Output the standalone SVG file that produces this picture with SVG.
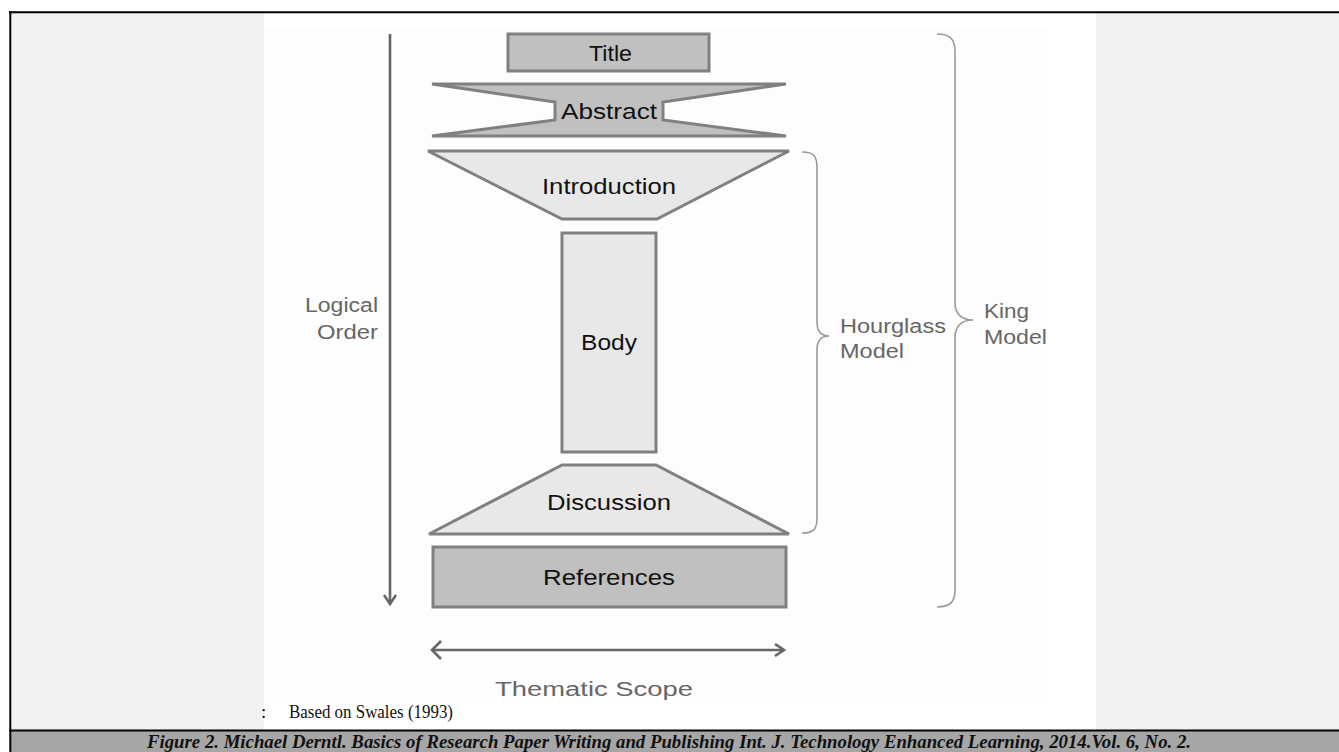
<svg xmlns="http://www.w3.org/2000/svg" width="1339" height="752" viewBox="0 0 1339 752">
<style>
.shape{stroke:#808080;stroke-width:3;stroke-linejoin:miter}
.dark{fill:#c0c0c0}
.light{fill:#e8e8e8}
.lbl{font-family:"Liberation Sans",Arial,sans-serif;font-size:22px;fill:#111}
.side{font-family:"Liberation Sans",Arial,sans-serif;font-size:19.5px;fill:#666}
.brace{fill:none;stroke:#9a9a9a;stroke-width:1.6}
.arrow{fill:none;stroke:#666;stroke-width:2.6}
</style>
<defs>
<marker id="head" markerWidth="12" markerHeight="14" refX="10" refY="7" orient="auto" markerUnits="userSpaceOnUse">
<path d="M1,1 L10,7 L1,13" fill="none" stroke="#666" stroke-width="2.6"/>
</marker>
</defs>
<rect x="0" y="0" width="1339" height="752" fill="#ffffff"/>
<rect x="10" y="12" width="254" height="718" fill="#f1f1f1"/>
<rect x="1096" y="12" width="243" height="718" fill="#f1f1f1"/>
<rect x="264" y="27" width="784" height="676" fill="#fdfdfd"/>
<rect x="10" y="731" width="1329" height="21" fill="#a6a6a6"/>
<line x1="9" y1="12.3" x2="1339" y2="12.3" stroke="#000" stroke-width="2"/>
<line x1="10.3" y1="11" x2="10.3" y2="752" stroke="#000" stroke-width="2"/>
<line x1="9" y1="730.5" x2="1339" y2="730.5" stroke="#000" stroke-width="2"/>

<g id="title">
<rect class="shape dark" x="508" y="34" width="201" height="37"/>
<text class="lbl" x="589" y="61" textLength="43" lengthAdjust="spacingAndGlyphs">Title</text>
</g>
<g id="abstract">
<polygon class="shape dark" points="432,84 786,84 663,102 663,120 786,136 432,136 555,120 555,102"/>
<text class="lbl" x="561" y="119" textLength="96" lengthAdjust="spacingAndGlyphs">Abstract</text>
</g>
<g id="introduction">
<polygon class="shape light" points="428,151 789,151 657,219 562,219"/>
<text class="lbl" x="542" y="194" textLength="134" lengthAdjust="spacingAndGlyphs">Introduction</text>
</g>
<g id="body">
<rect class="shape light" x="562" y="233" width="94" height="219"/>
<text class="lbl" x="581" y="350" textLength="56" lengthAdjust="spacingAndGlyphs">Body</text>
</g>
<g id="discussion">
<polygon class="shape light" points="562,465 656,465 789,534 429,534"/>
<text class="lbl" x="547" y="510" textLength="124" lengthAdjust="spacingAndGlyphs">Discussion</text>
</g>
<g id="references">
<rect class="shape dark" x="433" y="547" width="353" height="60"/>
<text class="lbl" x="543" y="585" textLength="132" lengthAdjust="spacingAndGlyphs">References</text>
</g>

<g id="connectors">
<line class="arrow" x1="390" y1="34" x2="390" y2="604" marker-end="url(#head)"/>
<line class="arrow" x1="433" y1="650" x2="784" y2="650" marker-end="url(#head)"/>
<path class="arrow" d="M441,641 L432,650 L441,659"/>
<path class="brace" d="M802,152 C814,152 817,156 817,168 L817,322 C817,332 821,336 829,336 C821,336 817,340 817,350 L817,518 C817,529 814,533 802,533"/>
<path class="brace" d="M937,34 C951,34 955,40 955,52 L955,303 C955,314 962,320 973,320 C962,320 955,326 955,337 L955,590 C955,601 951,607 937,607"/>
</g>

<g id="labels">
<text class="side" x="305" y="312" textLength="73" lengthAdjust="spacingAndGlyphs">Logical</text>
<text class="side" x="317" y="339" textLength="61" lengthAdjust="spacingAndGlyphs">Order</text>
<text class="side" x="840" y="333" textLength="106" lengthAdjust="spacingAndGlyphs">Hourglass</text>
<text class="side" x="840" y="358" textLength="64" lengthAdjust="spacingAndGlyphs">Model</text>
<text class="side" x="984" y="318" textLength="45" lengthAdjust="spacingAndGlyphs">King</text>
<text class="side" x="984" y="344" textLength="63" lengthAdjust="spacingAndGlyphs">Model</text>
<text class="side" x="495" y="696" font-size="18.5" textLength="198" lengthAdjust="spacingAndGlyphs">Thematic Scope</text>
<text x="261" y="718" font-family="Liberation Serif,'Times New Roman',serif" font-size="19" fill="#111">:</text>
<text x="289" y="718" font-family="Liberation Serif,'Times New Roman',serif" font-size="19.5" fill="#111" textLength="164" lengthAdjust="spacingAndGlyphs">Based on Swales (1993)</text>
<text x="669" y="748" text-anchor="middle" font-family="'Liberation Serif','Times New Roman',serif" font-weight="bold" font-style="italic" font-size="18" fill="#111" textLength="1044" lengthAdjust="spacingAndGlyphs">Figure 2.  Michael Derntl. Basics of Research Paper Writing and Publishing Int. J. Technology Enhanced Learning, 2014.Vol. 6, No. 2.</text>
</g>
</svg>
